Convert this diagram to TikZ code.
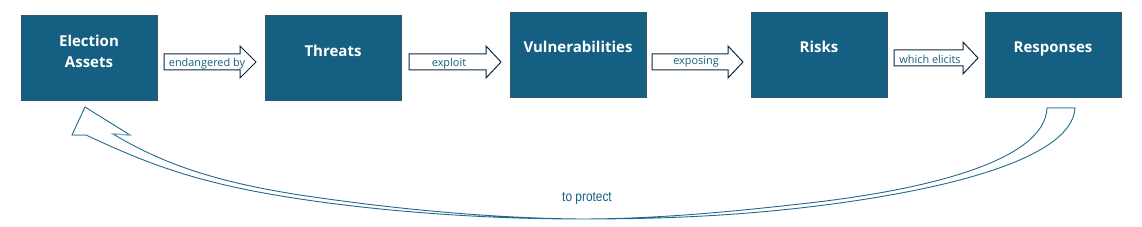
\documentclass[tikz,border=0pt]{standalone}
\usepackage{fontspec}
\setmainfont{Open Sans}
\newfontfamily\narrowfont[FakeStretch=0.85]{Liberation Sans}
\usetikzlibrary{calc}
\definecolor{boxfill}{HTML}{156082}
\definecolor{boxline}{HTML}{35556A}
\definecolor{arrline}{HTML}{0E2841}
\definecolor{lbl}{HTML}{156082}
\definecolor{curv}{HTML}{22698C}
\definecolor{curvlight}{HTML}{8AB0C4}
\begin{document}
\begin{tikzpicture}[x=1pt,y=-1pt,
  box/.style={draw=boxline, line width=1pt, fill=boxfill, minimum width=136pt, minimum height=85pt, inner sep=0pt},
  boxtext/.style={text=white, font=\fontsize{15}{21}\selectfont\bfseries, align=center, inner sep=0pt},
  blockarrow/.style={draw=arrline, fill=white, line width=1pt, line join=miter},
  arrlabel/.style={text=lbl, font=\fontsize{10.9}{12}\selectfont, inner sep=0pt, anchor=base},
  curvedarrow/.style={draw=curv, line width=0.9pt, line join=miter},
  curvededge/.style={draw=curvlight, line width=1pt},
  protlabel/.style={text=lbl, font=\narrowfont\fontsize{14}{16}\selectfont, inner sep=0pt, anchor=base}]
\useasboundingbox (0,0) rectangle (1142,227);

% boxes
\node[box] (b1) at (89,58.5) {};
\node[box] (b2) at (333,58.5) {};
\node[box] (b3) at (578,55) {};
\node[box] (b4) at (819,55) {};
\node[box] (b5) at (1053,55) {};

\node[boxtext] (t1) at ($(b1.north)+(0,35.8)$) {Election\\Assets};
\node[boxtext, anchor=base] (t2) at ($(b2.north)+(0,41.5)$) {Threats};
\node[boxtext, anchor=base] (t3) at ($(b3.north)+(0,40.5)$) {Vulnerabilities};
\node[boxtext, anchor=base] (t4) at ($(b4.north)+(0,40.5)$) {Risks};
\node[boxtext, anchor=base] (t5) at ($(b5.north)+(0,40.5)$) {Responses};

% block arrows
\draw[blockarrow] (164,54) -- (240,54) -- (240,46) -- (256,62) -- (240,78) -- (240,70) -- (164,70) -- cycle;
\draw[blockarrow] (409,54) -- (486,54) -- (486,46) -- (501,62) -- (486,78) -- (486,70) -- (409,70) -- cycle;
\draw[blockarrow] (652,54) -- (728,54) -- (728,46) -- (743,62) -- (728,78) -- (728,70) -- (652,70) -- cycle;
\draw[blockarrow] (894,50) -- (963,50) -- (963,42) -- (978,58) -- (963,74) -- (963,66) -- (894,66) -- cycle;

\node[arrlabel] (l1) at (207,66.5) {endangered by};
\node[arrlabel] (l2) at (449,66.5) {exploit};
\node[arrlabel] (l3) at (696,65) {exposing};
\node[arrlabel] (l4) at (930,63.3) {which elicits};

% curved return arrow
\draw[curvedarrow] (1047,108) -- (1075,108)
  .. controls (1072,160) and (940,192) .. (800,208)
  .. controls (720,217) and (650,219) .. (580,219)
  .. controls (480,219) and (380,211) .. (300,199)
  .. controls (200,184) and (150,165) .. (86,135)
  -- (72,135) -- (85,107) -- (130,135) -- (113,134)
  .. controls (160,162) and (210,181) .. (300,195)
  .. controls (380,207) and (480,218) .. (580,219)
  .. controls (650,219) and (720,213) .. (800,204)
  .. controls (930,190) and (1045,160) .. (1047,108)
  -- cycle;
\draw[curvededge] (1047,108) -- (1075,108);
\draw[curvededge] (72,135) -- (86,135);
\draw[curvededge] (113,134) -- (130,135);

\node[protlabel] (l5) at (587,201) {to protect};
\end{tikzpicture}
\end{document}
